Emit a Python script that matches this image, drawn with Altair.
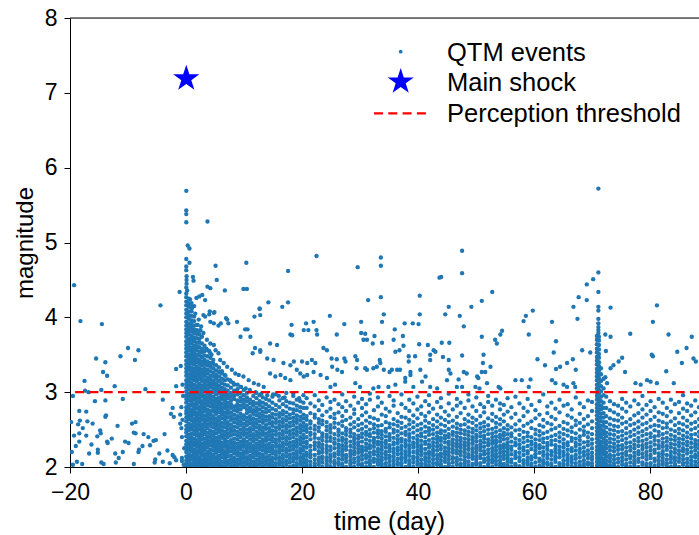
import altair as alt
import pandas as pd

# ---------------- data ----------------
# events before the main shock (time in days, magnitude)
pre_t = [-19.3, -18.2, -14.5, -4.4, -10.0, -8.2, -11.3, -8.8, -15.5, -13.9, -17.5, -14.3, -13.6,
         -12.3, -14.6, -17.4, -7.0, -10.9, -13.9, -19.5, -18.4, -17.2, -13.8, -13.9, -18.3, -17.0,
         -16.1, -18.6, -14.8, -9.3, -8.7, -8.7, -7.3, -5.2, -3.7, -2.1, -2.6, -2.3, -4.0, -1.7,
         -1.7, -0.9, -1.1, -1.0, -1.0, -18.4, -19.3, -17.2, -18.4, -16.7, -15.2, -15.2, -13.6,
         -13.5, -12.2, -11.6, -10.9, -10.5, -9.9, -9.0, -8.2, -8.1, -6.2, -5.6, -4.6, -5.4, -2.3,
         -2.0, -1.7, -0.7, -0.7, -18.8, -17.9, -19.5, -14.6, -14.2, -12.1, -9.0, -5.3, -4.0,
         -15.3, -14.7, -0.7, -0.8, -0.6, -0.8, -0.5, -0.6, -0.3, -0.4, -2.8, -3.2, -6.5, -7.5,
         -11.8, -12.8, -16.3, -19.7, -19.0, -17.8, -16.8, -15.7, -19.8]
pre_m = [4.43, 3.95, 3.91, 4.16, 3.59, 3.56, 3.48, 3.43, 3.45, 3.40, 3.15, 3.27, 3.22,
         3.08, 3.03, 3.02, 3.04, 2.91, 2.89, 2.95, 2.75, 2.74, 2.69, 2.67, 2.62, 2.61,
         2.58, 2.57, 2.49, 2.58, 2.60, 2.45, 2.44, 2.36, 2.44, 2.67, 2.71, 2.79, 2.90, 3.08,
         3.31, 3.35, 4.34, 2.70, 2.58, 2.45, 2.42, 2.42, 2.34, 2.18, 2.23, 2.19, 2.34,
         2.32, 2.18, 2.12, 2.20, 2.34, 2.32, 2.46, 2.20, 2.23, 2.29, 2.35, 2.18, 2.06, 2.16,
         2.13, 2.09, 2.12, 2.08, 2.07, 2.04, 2.03, 2.06, 2.04, 2.06, 2.04, 2.10, 2.07,
         2.41, 2.45, 2.40, 2.52, 2.63, 2.80, 2.95, 3.10, 2.25, 2.03, 2.05, 2.22, 2.40, 2.28,
         2.55, 2.38, 2.30, 2.20, 2.28, 2.52, 3.00, 2.88, 2.60]

# scattered aftershocks (mostly above the dense band)
post_t = [0.05, 0.05, 0.05, 0.05, 0.3, 0.6, 0.05, 0.6, 0.05, 0.05, 1.2, 1.3, 0.1, 0.1, 0.1, 0.05, 0.2, 0.05,
          3.7, 5.1, 10.4, 17.6, 22.5, 29.6, 33.6, 33.6, 43.7, 5.3, 3.7, 4.2, 6.7, 9.9, 10.5, 1.8, 2.3,
          2.8, 3.3, 14.2, 12.7, 16.6, 17.6, 31.4, 33.6, 40.3, 24.8, 34.1, 40.3, 4.9, 3.0, 4.0, 11.8, 6.9,
          71.1, 47.6, 47.6, 44.0, 71.1, 70.2, 69.1, 52.8, 71.1, 67.7, 69.1, 51.0, 45.3, 49.2, 66.8, 71.1,
          71.1, 73.2, 81.2, 44.7, 47.2, 58.6, 59.8, 67.5, 71.1,
          27.3, 30.2, 33.8, 37.7, 39.1, 40.1, 47.9, 26.0, 30.2, 30.9, 32.5, 30.6, 31.2, 32.2, 33.8, 36.0,
          37.4, 35.8, 36.1, 36.8, 37.5, 40.2, 41.7, 42.7, 43.0, 44.1, 45.4, 44.3, 45.3, 47.6, 51.0, 53.3,
          53.6, 54.5, 54.2, 51.3, 51.2, 51.6, 52.5, 25.1, 26.0, 27.3, 27.5, 29.2, 29.5, 26.1, 26.9, 29.4,
          30.9, 31.2, 32.3, 32.9, 33.4, 33.5, 34.1, 35.1, 35.5, 36.4, 36.9, 38.4, 38.4, 39.5, 38.7, 38.7,
          37.8, 37.8, 40.4, 41.3, 40.7, 42.1, 42.1, 45.3, 45.6, 45.0, 47.0, 47.9, 48.4, 50.2, 50.4, 51.0,
          49.9, 50.6, 53.9, 54.2, 34.9, 36.1, 32.3, 33.2, 24.9, 25.7, 29.2, 30.0, 42.1, 43.3, 39.2, 46.7,
          47.6, 51.9,
          58.2, 59.1, 63.1, 80.5, 76.6, 72.3, 73.2, 83.2, 87.2, 63.8, 68.3, 69.7, 63.4, 72.4, 60.6, 61.9,
          63.8, 64.5, 65.7, 66.7, 67.2, 74.6, 75.2, 73.7, 73.2, 75.7, 80.3, 80.5, 82.8, 84.7, 85.5, 86.3,
          87.5, 87.9, 56.8, 57.9, 59.4, 59.1, 63.1, 63.7, 65.1, 65.7, 66.8, 67.1, 77.5, 78.4, 79.5, 80.1,
          81.2, 84.1, 72.3, 72.6, 71.1, 71.1, 71.1, 71.1,
          4.8, 4.1, 3.3, 4.2, 4.8, 5.6, 6.0, 7.1, 7.3, 8.8, 10.2, 10.6, 9.4, 11.1, 12.7, 12.8, 18.2, 18.0,
          18.3, 20.7, 22.0, 22.5, 20.3, 21.1, 22.6, 15.7, 14.5, 12.8, 11.9, 11.5, 12.8, 14.0, 15.1, 16.8,
          18.0, 18.6, 20.0, 20.9, 21.7, 22.3, 23.7, 24.3, 25.2, 19.1, 19.7, 20.3, 20.9, 22.0, 23.2, 24.3,
          14.5, 15.4, 16.3, 17.1, 18.0, 9.9, 10.8, 11.7, 12.5, 13.4, 7.1, 7.9, 8.5, 9.1, 5.9, 6.5, 5.1,
          5.6, 3.6, 4.2, 4.8, 2.5, 3.0,
          1.0, 1.6, 2.2, 2.0, 2.6, 1.4, 0.7, 3.5, 4.0, 4.4, 6.2, 6.8, 7.6, 8.2, 8.9, 9.5, 10.3, 11.0,
          12.0, 13.0, 14.0, 15.0, 16.0, 17.0, 18.5, 19.5]
post_m = [5.69, 5.43, 5.38, 5.27, 4.96, 4.92, 4.78, 4.73, 4.68, 4.63, 4.54, 4.49, 4.55, 4.50, 4.45, 4.40, 4.36, 4.32,
          5.28, 4.69, 4.73, 4.62, 4.82, 4.67, 4.80, 4.69, 4.53, 4.50, 4.41, 4.39, 4.36, 4.38, 4.38, 4.26, 4.28,
          4.30, 4.23, 4.20, 4.11, 4.14, 4.20, 4.23, 4.27, 4.29, 4.02, 4.04, 4.04, 4.07, 4.03, 4.04, 4.01, 3.99,
          5.72, 4.89, 4.59, 4.54, 4.60, 4.51, 4.44, 4.34, 4.34, 4.27, 4.23, 4.22, 4.14, 4.14, 4.14, 4.14,
          4.09, 4.13, 4.16, 4.04, 4.02, 4.02, 4.09, 3.98, 3.98,
          3.91, 3.94, 3.94, 3.92, 3.92, 3.91, 3.88, 3.77, 3.79, 3.78, 3.75, 3.70, 3.70, 3.65, 3.66, 3.84,
          3.75, 3.70, 3.54, 3.56, 3.62, 3.64, 3.63, 3.56, 3.54, 3.66, 3.66, 3.47, 3.43, 3.49, 3.74, 3.70,
          3.65, 3.82, 3.77, 3.50, 3.39, 3.27, 3.34, 3.45, 3.44, 3.45, 3.41, 3.48, 3.43, 3.30, 3.27, 3.32,
          3.32, 3.30, 3.32, 3.34, 3.43, 3.39, 3.30, 3.27, 3.30, 3.30, 3.30, 3.41, 3.48, 3.48, 3.27, 3.23,
          3.19, 3.14, 3.30, 3.21, 3.14, 3.43, 3.50, 3.30, 3.25, 3.16, 3.17, 3.27, 3.25, 3.21, 3.19, 3.27,
          3.07, 3.05, 3.07, 3.05, 3.07, 3.10, 3.05, 3.07, 3.07, 3.10, 3.12, 3.07, 3.07, 3.05, 3.07, 3.07,
          3.07, 3.12,
          3.95, 3.77, 3.94, 3.94, 3.78, 3.77, 3.74, 3.77, 3.74, 3.68, 3.56, 3.53, 3.53, 3.55, 3.44, 3.36,
          3.31, 3.34, 3.39, 3.44, 3.30, 3.41, 3.46, 3.36, 3.32, 3.27, 3.50, 3.48, 3.28, 3.54, 3.39, 3.59,
          3.45, 3.41, 3.16, 3.16, 3.17, 3.07, 3.16, 3.12, 3.10, 3.07, 3.12, 3.07, 3.12, 3.10, 3.16, 3.14,
          3.12, 3.12, 3.20, 3.12, 3.92, 3.87, 3.83, 3.79,
          4.06, 4.08, 4.01, 3.94, 3.92, 3.89, 3.92, 3.97, 3.92, 3.94, 3.84, 3.84, 3.74, 3.74, 4.12, 4.03, 3.90, 3.77,
          3.76, 3.92, 3.94, 3.83, 3.83, 3.83, 3.77, 3.63, 3.65, 3.56, 3.59, 3.52, 3.54, 3.45, 3.43, 3.39,
          3.36, 3.41, 3.41, 3.39, 3.43, 3.39, 3.59, 3.56, 3.34, 3.30, 3.25, 3.21, 3.23, 3.27, 3.23, 3.19,
          3.25, 3.21, 3.23, 3.19, 3.16, 3.21, 3.16, 3.12, 3.10, 3.07, 3.34, 3.30, 3.25, 3.23, 3.43, 3.39, 3.56,
          3.52, 3.70, 3.65, 3.63, 3.83, 3.79,
          4.12, 4.05, 3.97, 3.90, 3.88, 4.15, 4.24, 3.58, 3.55, 3.50, 3.28, 3.22, 3.16, 3.12, 3.10, 3.07, 3.05, 3.03,
          3.00, 2.98, 2.96, 2.97, 2.95, 2.93, 2.98, 2.92]

# dense band: one column per time, magnitudes in hundredths above 2.00
early_t = [0.05, 0.5, 0.95, 1.4, 1.85, 2.3, 2.75, 3.2, 3.7, 4.2, 4.7, 5.2, 5.7, 6.2, 6.7, 7.2]
early_m = [
    "0 5 9 14 20 25 30 35 41 46 50 55 61 66 71 75 80 86 91 96 101 106 111 116 122 127 132 137 142 148 153 158 163 168 174 179 184 189 194 200 205 210 216 221 227",
    "2 7 12 17 23 28 33 38 43 49 53 58 64 69 73 78 83 89 94 98 104 109 114 119 124 130 135 140 145 150 156 161 166 171 177 182 187 192 198 203 208 214 219 225",
    "0 4 10 15 21 26 31 36 40 45 51 56 62 67 71 76 82 87 92 97 102 107 112 118 123 128 133 139 144 149 154 159 165 170 175 181 186 191 196 202 208 214 219",
    "3 8 13 18 23 29 33 38 44 49 54 59 64 70 74 79 84 90 95 100 105 110 116 121 126 131 137 142 147 152 157 162 168 173 179 184 189 195 201",
    "1 6 11 16 21 27 31 36 42 47 52 57 62 67 72 78 83 88 93 98 103 108 114 119 124 129 134 140 145 150 156 161 166 172 178 183 190",
    "3 8 13 19 24 29 34 39 44 50 55 60 65 70 75 80 86 91 96 101 106 111 117 122 127 132 138 143 149 154 160 166 171 177 182",
    "0 5 10 16 21 26 31 37 42 47 52 57 63 68 73 78 83 88 94 99 104 109 115 120 125 130 136 141 147 153 158 165 174",
    "2 7 12 17 23 28 33 38 44 49 54 59 64 69 75 80 85 90 95 101 106 111 116 122 127 132 138 143 149 155 162",
    "0 5 10 15 20 26 31 36 41 46 52 57 62 67 72 77 83 88 93 98 104 109 114 119 125 130 136 141 148 156",
    "3 8 13 18 23 29 34 39 44 49 55 60 65 70 75 81 86 91 96 101 107 112 117 122 128 134 139 146 152",
    "1 6 11 16 22 27 32 37 42 47 53 58 63 68 74 79 84 89 94 100 105 110 115 121 126 132 138 143",
    "3 8 13 19 24 29 34 39 45 50 55 60 65 71 76 81 86 91 97 102 107 112 118 123 129 136",
    "0 5 10 15 21 26 31 36 41 47 52 57 62 67 73 78 83 88 93 99 104 109 115 121 127 133",
    "2 7 13 18 23 28 33 39 44 49 54 59 65 70 75 80 85 91 96 101 106 112 118 125",
    "1 6 11 16 21 27 32 37 42 47 53 58 63 68 73 79 84 89 94 99 104 110 116 123",
    "3 8 14 19 24 29 34 40 45 50 55 60 66 71 76 81 86 92 97 102 109 117",
]

mid_t = [7.75, 8.3, 8.85, 9.4, 9.95, 10.5, 11.05, 11.6, 12.15, 12.7, 13.25, 13.8, 14.35,
         14.9, 15.5, 16.1, 16.7, 17.3, 17.9, 18.5, 19.1, 19.7, 20.25]
mid_m = [
    "0 5 10 15 21 26 31 36 42 47 52 57 63 68 73 79 84 89 94 99 106 114",
    "2 7 12 18 23 28 33 38 44 49 54 60 65 70 76 81 91 96 102 110",
    "0 5 10 16 21 26 31 37 42 47 53 58 63 68 74 79 84 89 97 104",
    "3 8 13 18 24 29 34 40 45 50 56 61 66 71 77 82 88 93 99 107",
    "1 6 11 16 21 27 32 37 43 48 53 58 64 69 80 85 90 96 103",
    "3 8 13 19 24 29 34 40 45 50 56 61 66 72 77 82 88 93 99",
    "0 5 10 15 21 26 31 37 42 47 52 58 63 68 74 79 85 90 101",
    "2 7 13 18 23 28 34 39 44 50 55 60 65 71 76 82 87 95",
    "0 5 10 16 21 26 31 37 42 47 53 58 63 69 74 79 85 92 99",
    "3 8 13 18 24 29 34 40 45 50 55 61 66 71 77 83 88 96",
    "1 6 11 16 22 27 32 37 43 48 53 59 64 69 74 80 86 93",
    "3 8 13 19 24 29 35 40 45 51 56 62 67 73 78 84 91",
    "0 5 10 15 21 26 31 37 42 47 52 58 63 68 75 81 89",
    "2 7 12 18 23 28 34 39 44 49 55 60 66 71 78 86 94",
    "0 5 11 16 21 27 32 37 43 48 53 59 64 70 76 83 97",
    "3 8 13 19 24 29 35 40 45 51 56 61 67 72 80 89",
    "1 6 11 16 22 27 32 38 43 48 54 59 64 70 75 84 92",
    "3 8 14 19 24 30 35 40 46 51 56 62 67 73 81 88 99",
    "0 6 11 16 22 27 32 38 43 48 54 59 65 70 78 86",
    "2 8 13 18 24 29 34 40 45 50 56 61 66 72 77 85 95",
    "0 5 11 16 21 27 32 37 43 48 53 59 64 69 76 82 90",
    "3 8 13 19 24 30 35 40 46 51 56 62 67 74 80 88",
    "1 6 11 16 22 27 33 38 43 49 54 59 65 70 79 86 96",
]

late_t = [20.8, 21.45, 22.2, 22.9, 23.5, 24.25, 24.9, 25.6, 26.3, 26.95, 27.6, 28.35, 29.0, 29.7,
          30.35, 31.05, 31.7, 32.4, 33.1, 33.75, 34.45, 35.1, 35.8, 36.5, 37.15, 37.85, 38.5, 39.2,
          39.9, 40.55, 41.25, 41.9, 42.6, 43.3, 43.95, 44.65, 45.3, 46.0, 46.7, 47.35, 48.05, 48.7,
          49.4, 50.05, 50.75, 51.4, 52.1, 52.8, 53.45, 54.15, 54.8, 55.45]
late_m = [
    "0 4 9 15 19 26 31 34 40 47 51 56 63 68 79 92", "2 7 13 17 22 28 37 43 46 52 58 61 72 85",
    "1 5 10 16 24 29 33 39 44 50 55 66 70 81 96", "3 8 12 18 21 27 32 38 48 53 59 64 76 89",
    "0 6 11 14 20 25 30 36 41 45 57 62 69 83", "2 4 9 13 19 23 28 34 39 43 49 54 60 74 93",
    "1 7 12 16 22 27 35 40 46 51 56 67 78 87", "0 5 8 14 18 25 31 33 38 44 53 59 65 71 90",
    "3 6 11 17 21 26 30 36 42 47 50 58 73 84", "1 4 10 15 20 24 29 35 39 45 55 61 68 80 97",
    "0 7 12 16 23 27 32 37 43 48 52 63 75 88", "2 5 9 14 18 22 28 34 41 46 50 57 66 82",
    "0 6 11 17 21 26 31 36 39 44 53 60 71 77 94", "3 8 13 19 24 29 33 38 42 49 56 64 86",
    "1 4 10 15 20 23 27 34 40 45 51 58 69 79 91", "0 6 12 16 22 26 31 37 43 47 54 62 73 84",
    "2 5 9 14 19 25 29 35 41 44 50 59 67 90 98", "0 7 11 17 21 27 32 36 39 46 52 57 65 76",
    "3 6 10 15 20 24 30 34 40 45 49 55 63 81 93", "1 4 9 13 18 23 28 33 38 43 48 56 70 86",
    "0 5 11 16 20 26 31 35 41 47 51 60 68 78", "2 7 12 15 21 25 29 36 40 44 53 58 74 95",
    "0 4 9 14 19 24 30 33 39 46 50 57 64 82 89", "3 6 11 17 22 26 32 37 42 48 55 61 72",
    "1 5 10 13 18 23 28 34 38 45 52 59 67 84 97", "0 7 12 16 21 27 31 36 43 47 54 66 79",
    "2 4 9 15 19 24 29 35 40 44 50 57 63 75 90", "0 6 11 14 20 26 30 33 39 46 53 60 69 85",
    "3 8 13 18 22 27 32 37 42 49 56 65 77 94", "1 5 10 16 21 25 29 35 41 45 51 58 71 81",
    "0 4 9 13 18 24 31 34 40 47 54 62 68 88", "2 7 12 17 20 26 30 36 43 48 52 59 73 83 96",
    "0 5 10 15 19 23 28 33 38 44 50 56 64 78", "3 6 11 16 22 27 32 37 41 46 53 61 70 87",
    "1 4 9 14 18 24 29 35 39 45 49 57 66 80 92", "0 7 12 17 21 26 33 38 42 48 55 63 74",
    "2 5 10 15 20 25 30 34 40 44 51 60 69 85 98", "0 6 11 13 19 23 28 32 37 43 47 54 62 77",
    "3 8 12 18 22 27 31 36 41 46 52 58 67 82 91", "1 4 10 16 21 26 30 35 39 45 50 56 72 86",
    "0 5 9 14 19 24 29 33 38 44 49 57 64 79", "2 7 13 17 23 28 32 37 42 47 53 61 70 89 97",
    "0 4 11 15 20 25 31 36 40 46 51 59 66 81", "3 6 10 14 19 24 28 34 39 43 49 55 63 75 93",
    "1 5 12 16 22 26 30 35 41 46 52 58 68 84", "0 7 11 17 21 27 33 38 42 48 54 60 73 80",
    "2 4 9 13 18 23 29 32 37 44 50 56 65 87 95", "0 6 10 15 20 25 31 35 40 45 51 62 71 82",
    "3 8 13 17 22 27 32 36 41 47 53 59 67 90", "1 5 9 14 19 24 28 34 39 43 49 57 64 77 85",
    "0 4 11 16 21 26 30 37 42 46 52 61 70 83", "2 7 12 15 20 25 29 33 38 44 50 56 74 92",
]

quiet_t = [56.1, 56.8, 57.5, 58.2, 58.9, 59.55, 60.25, 60.95, 61.6, 62.3, 63.0, 63.7, 64.4, 65.1,
           65.8, 66.5, 67.2, 67.9, 68.6, 69.3, 70.0]
quiet_m = [
    "0 6 10 17 23 27 34 41 45 53 66 80", "2 4 12 15 20 29 32 38 49 57 71 94",
    "1 8 13 19 25 30 36 43 50 62 85", "0 5 9 16 22 26 33 39 47 55 68 79",
    "3 7 12 18 21 28 35 41 46 58 74 91", "1 4 10 14 24 30 34 40 52 61 83",
    "0 6 13 17 22 27 31 37 44 50 65 76", "2 8 11 19 25 29 36 42 48 56 70 88",
    "0 5 9 15 20 26 33 38 45 54 63 97", "3 6 12 17 23 28 32 39 47 59 72 81",
    "1 4 10 16 21 30 35 41 50 57 67 86", "0 7 11 14 19 24 29 36 43 52 64 78",
    "2 5 13 18 22 27 34 40 46 55 73 90", "0 4 9 15 20 26 31 37 44 51 60 82",
    "3 8 12 17 23 29 33 42 49 58 69 84", "1 6 10 14 21 25 35 39 47 53 66 77",
    "0 5 11 16 22 28 32 38 45 56 62 93", "2 7 13 19 24 30 36 41 50 59 71 85",
    "0 4 9 15 20 26 33 43 48 54 64 80", "3 6 12 17 22 29 34 40 46 57 68 89",
    "1 5 10 14 19 25 31 37 44 52 61 75 87",
]

spike_t = [70.85, 71.2, 71.55, 72.0]
spike_m = [
    "2 7 12 17 22 27 33 38 43 48 53 58 64 69 74 79 84 90 95 100 105 110 116 121 126 131 137 142 147 153 158 164 170 175",
    "0 5 10 15 20 25 30 35 41 46 51 56 61 66 72 77 82 87 92 98 103 108 113 119 124 129 135 140 146 151 157 163 169 174",
    "3 8 13 19 24 29 34 40 45 50 55 61 66 71 77 82 88 94 101 108 115 124 132",
    "1 6 11 17 22 27 33 38 44 49 55 60 66 72 79 86 96 105 118",
]

tail_t = [72.45, 73.1, 73.8, 74.5, 75.2, 75.9, 76.6, 77.3, 78.0, 78.7, 79.4, 80.1, 80.8, 81.5,
          82.2, 82.9, 83.6, 84.3, 85.0, 85.7, 86.4, 87.1, 87.8, 88.45]
tail_m = [
    "0 4 9 14 19 25 30 35 41 46 53 60 68 79 94", "2 7 12 16 22 27 33 38 44 50 57 65 76 88",
    "1 5 10 15 21 26 31 37 43 49 55 63 73 84", "0 6 11 17 23 28 34 40 47 54 62 70 82",
    "3 8 13 18 24 29 36 42 48 58 66 78 91", "1 4 10 16 20 26 32 38 45 52 60 74 86",
    "0 6 12 15 22 27 33 41 47 56 64 81", "2 5 9 14 19 25 30 36 43 50 58 69 89",
    "0 7 11 17 21 28 34 39 46 53 61 72 84", "3 6 13 18 24 29 35 42 48 57 66 77 95",
    "1 4 10 15 20 26 31 37 44 51 59 70 83", "0 5 12 16 22 27 33 40 45 54 63 75 88",
    "2 8 11 19 23 30 36 41 49 56 67 80", "0 4 9 14 18 25 29 35 42 47 55 62 73 91",
    "3 7 12 17 21 27 32 38 44 52 60 71 86", "1 5 10 16 23 28 34 39 46 53 58 68 79",
    "0 6 11 15 20 26 31 37 43 50 61 74 90", "2 4 9 13 19 24 30 36 41 48 56 65 84",
    "0 7 12 17 22 28 33 38 45 51 59 72 87", "3 5 10 15 21 25 31 37 42 49 57 66 78 96",
    "1 6 11 18 23 29 34 40 46 54 62 75 85", "0 4 9 14 20 26 32 38 43 50 58 69 82",
    "2 7 13 16 22 27 31 36 44 52 60 73 89", "0 5 10 15 19 25 30 35 41 47 55 64 80",
]

main_t = [0.05]
main_m = [7.19]
threshold = [3.0]

x_ticks = [-20, 0, 20, 40, 60, 80]
y_ticks = [2, 3, 4, 5, 6, 7, 8]
legend_labels = ["QTM events", "Main shock", "Perception threshold"]

# ---------------- build tables ----------------
rows = [{"t": t, "m": m} for t, m in zip(pre_t, pre_m)]
rows += [{"t": t, "m": m} for t, m in zip(post_t, post_m)]
for ts, ms in [(early_t, early_m), (mid_t, mid_m), (late_t, late_m), (quiet_t, quiet_m),
               (spike_t, spike_m), (tail_t, tail_m)]:
    for t, s in zip(ts, ms):
        for v in s.split():
            rows.append({"t": t, "m": 2 + int(v) / 100})
events = pd.DataFrame(rows)
shock = pd.DataFrame({"t": main_t, "m": main_m})
thr = pd.DataFrame({"m": threshold})
one = pd.DataFrame({"k": [0]})

W, H = 629, 449
FONT = "Liberation Sans"
BLUE = "#1f77b4"
DOT = 19
STAR = ("M0,-1L0.2245,-0.309L0.951,-0.309L0.3633,0.118L0.588,0.809L0,0.382"
        "L-0.588,0.809L-0.3633,0.118L-0.951,-0.309L-0.2245,-0.309Z")

xscale = alt.Scale(domain=[-20, 88.45], nice=False, zero=False)
yscale = alt.Scale(domain=[2, 8], nice=False, zero=False)


def xenc():
    return alt.X("t:Q", scale=xscale, title="time (day)", axis=alt.Axis(values=x_ticks))


def yenc():
    return alt.Y("m:Q", scale=yscale, title="magnitude", axis=alt.Axis(values=y_ticks))


pts = alt.Chart(events).mark_circle(size=DOT, color=BLUE, opacity=1, clip=True).encode(
    x=xenc(), y=yenc())
line = alt.Chart(thr).mark_rule(color="red", strokeWidth=2.2, strokeDash=[9, 5.3]).encode(
    y=yenc())
star = alt.Chart(shock).mark_point(shape=STAR, filled=True, color="blue", opacity=1,
                                   strokeWidth=0, size=760).encode(x=xenc(), y=yenc())

top_spine = alt.Chart(one).mark_rule(color="black", strokeWidth=1).encode(
    x=alt.value(0), x2=alt.value(W), y=alt.value(0)
)

leg_dot = alt.Chart(one).mark_circle(size=14, color=BLUE, opacity=1).encode(
    x=alt.value(330.7), y=alt.value(33.7))
leg_star = alt.Chart(one).mark_point(shape=STAR, filled=True, color="blue", opacity=1,
                                     strokeWidth=0, size=760).encode(
    x=alt.value(330.7), y=alt.value(63.7))
leg_line = alt.Chart(one).mark_rule(color="red", strokeWidth=2.2, strokeDash=[9, 5.3]).encode(
    x=alt.value(304), x2=alt.value(356), y=alt.value(95.3))
leg_txt = []
for lab, yy in zip(legend_labels, [42.7, 72.7, 103.7]):
    leg_txt.append(alt.Chart(one).mark_text(text=lab, font=FONT, fontSize=25.5, color="black",
                                            align="left", baseline="alphabetic").encode(
        x=alt.value(377), y=alt.value(yy)))

chart = alt.layer(pts, line, star, leg_dot, leg_star, leg_line, *leg_txt, top_spine).properties(
    width=W, height=H,
    autosize=alt.AutoSizeParams(type="none"),
    padding={"left": 70, "top": 18, "right": 0, "bottom": 68},
).configure_view(stroke=None).configure(background="white").configure_axis(
    grid=False, labelFont=FONT, labelFontSize=23, labelColor="black", tickSize=6,
    tickColor="black", domainColor="black", titleFont=FONT, titleFontWeight="normal",
    titleColor="black", labelFlush=False,
).configure_axisX(
    labelExpr="replace(format(datum.value, 'd'), '-', '\u2212')",
    labelPadding=8, titleFontSize=25, titleX=319, titleY=62, titleBaseline="alphabetic",
    titleAlign="center",
).configure_axisY(
    labelExpr="format(datum.value, 'd')", labelPadding=7,
    titleFontSize=24, titleAngle=270, titleX=-45, titleY=224.5, titleBaseline="middle",
    titleAlign="center",
)

chart.save("out.html", embed_options={"renderer": "svg", "actions": False})
